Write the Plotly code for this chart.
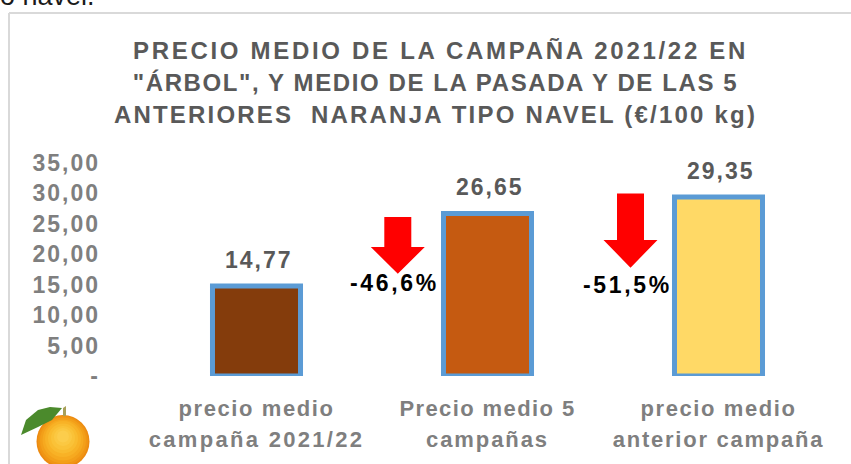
import plotly.graph_objects as go

categories = ["precio medio<br>campaña 2021/22", "Precio medio 5<br>campañas", "precio medio<br>anterior campaña"]
values = [14.77, 26.65, 29.35]
value_labels = ["14,77", "26,65", "29,35"]
bar_colors = ["#843c0c", "#c55a11", "#ffd966"]
tick_values = [0, 5, 10, 15, 20, 25, 30, 35]
tick_labels = ["-", "5,00", "10,00", "15,00", "20,00", "25,00", "30,00", "35,00"]
title_text = ('PRECIO MEDIO DE LA CAMPAÑA 2021/22 EN<br>"ÁRBOL", Y MEDIO DE LA PASADA Y DE LAS 5<br>'
              'ANTERIORES  NARANJA TIPO NAVEL (€/100 kg)')
changes = ["-46,6%", "-51,5%"]

W, H = 851, 464
def px(x): return x / W
def py(y): return 1 - y / H
FONT = "Liberation Sans"

def arrow(xc, top, neck, tip):
    return (f"M{xc-13.5},{top} L{xc+13.5},{top} L{xc+13.5},{neck} L{xc+27},{neck} "
            f"L{xc},{tip} L{xc-27},{neck} L{xc-13.5},{neck} Z")

def sh(path, fill):
    return dict(type="path", path=path, fillcolor=fill, line_width=0,
                xref="paper", yref="paper", layer="above")

def to_paper(path):
    out = []
    for tok in path.split():
        cmd = tok[0] if tok[0].isalpha() else ""
        body = tok[1:] if cmd else tok
        if "," in body:
            a, b = body.split(",")
            out.append(f"{cmd}{px(float(a)):.5f},{py(float(b)):.5f}")
        else:
            out.append(tok)
    return " ".join(out)

shapes = [
    dict(type="line", xref="paper", yref="paper", x0=px(9), x1=px(9), y0=py(13), y1=py(470),
         line=dict(color="#d9d9d9", width=2)),
    dict(type="line", xref="paper", yref="paper", x0=px(9), x1=px(860), y0=py(13), y1=py(13),
         line=dict(color="#d9d9d9", width=2)),
    sh(to_paper(arrow(397.8, 217, 247, 273.7)), "#ff0000"),
    sh(to_paper(arrow(630.5, 193.5, 240, 267.7)), "#ff0000"),
]
orange = [(63, 441.5, 26.5, "#ec8a10"), (63, 441, 25, "#f09514"), (63, 440.5, 23, "#f39f19"),
          (63, 440, 20.5, "#f6a91f"), (63, 439, 18, "#f8b226"), (63, 438.5, 15, "#f9bb2f"),
          (63, 438, 12, "#fac238"), (63, 437, 9, "#fbc842"), (63, 436.5, 6, "#fccd4c")]
for cx, cy, r, c in orange:
    shapes.append(dict(type="circle", xref="paper", yref="paper",
                       x0=px(cx - r), x1=px(cx + r), y0=py(cy - r), y1=py(cy + r),
                       fillcolor=c, line_width=0))
shapes.append(sh(to_paper("M21,435 L26,420 L38,410 L50,407 L62,408 L52,420 L38,427 Z"), "#4b8a2c"))
shapes.append(sh(to_paper("M63,408 L66,406 L66,416 L63,416 Z"), "#a9a05a"))

annotations = [
    dict(x=c, y=v, text=t, xref="x", yref="y", xanchor="center", yanchor="bottom", showarrow=False,
         yshift=11, xshift=2.5,
         font=dict(family=FONT, size=23, color="#595959", weight="bold"))
    for c, v, t in zip(categories, values, value_labels)
]
annotations += [
    dict(x=px(394.5), y=py(282.5), xref="paper", yref="paper", text=changes[0], showarrow=False,
         xanchor="center", yanchor="middle",
         font=dict(family=FONT, size=23, color="#000000", weight="bold")),
    dict(x=px(627), y=py(285), xref="paper", yref="paper", text=changes[1], showarrow=False,
         xanchor="center", yanchor="middle",
         font=dict(family=FONT, size=23, color="#000000", weight="bold")),
    dict(x=px(-2), y=py(6), xref="paper", yref="paper", text="o navel.", showarrow=False,
         xanchor="left", yanchor="bottom", yshift=-7,
         font=dict(family=FONT, size=27, color="#1a1a1a")),
]

fig = go.Figure(go.Bar(
    x=categories, y=values, width=0.381,
    marker=dict(color=bar_colors, line=dict(color="#5b9bd5", width=5)),
))
fig.update_layout(
    width=W, height=H, autosize=False, margin=dict(l=0, r=0, t=0, b=0, autoexpand=False),
    paper_bgcolor="white", plot_bgcolor="white", showlegend=False,
    title=dict(text=title_text, x=px(440.5), xanchor="center", xref="container",
               y=py(59), yanchor="middle", yref="container", automargin=False,
               font=dict(family=FONT, size=24, color="#595959", weight="bold")),
    shapes=shapes, annotations=annotations,
)
fig.update_xaxes(domain=[px(141), px(834)], showgrid=False, showline=False, ticks="", automargin=False,
                 ticklabelstandoff=17,
                 tickfont=dict(family=FONT, size=22, color="#7f7f7f", weight="bold"))
fig.update_yaxes(domain=[py(376), py(162.5)], range=[0, 35], tickvals=tick_values, ticktext=tick_labels,
                 showgrid=False, showline=False, zeroline=False, ticks="", ticklabelstandoff=40, automargin=False,
                 tickfont=dict(family=FONT, size=23, color="#7f7f7f", weight="bold"))

post = """
document.documentElement.style.overflow='hidden';
document.body.style.margin='0';
document.body.style.overflow='hidden';
document.querySelectorAll('.ytick text').forEach(function(t){ t.style.letterSpacing='2px'; });
document.querySelectorAll('.annotation-text').forEach(function(t){
  var s=t.textContent;
  t.style.letterSpacing = s.indexOf('navel')>=0 ? '0px' : (s.indexOf('%')>=0 ? '2.7px' : '2px');
});
var titleSp=[2.7,1.6,2.2], titleDx=[0,-5,-5];
document.querySelectorAll('.gtitle tspan.line').forEach(function(t,i){
  t.setAttribute('dy',(i*32)+'px');
  t.setAttribute('dx',titleDx[i]);
  t.style.letterSpacing=titleSp[i]+'px';
});
var xSp=[1.6,2.3,1.4,1.9,1.6,1.75];
document.querySelectorAll('.xtick tspan.line').forEach(function(t,i){
  t.setAttribute('dy',(i%2*31)+'px');
  t.style.letterSpacing=xSp[i]+'px';
});
"""
fig.write_html("out.html", post_script=post, config=dict(displayModeBar=False))
